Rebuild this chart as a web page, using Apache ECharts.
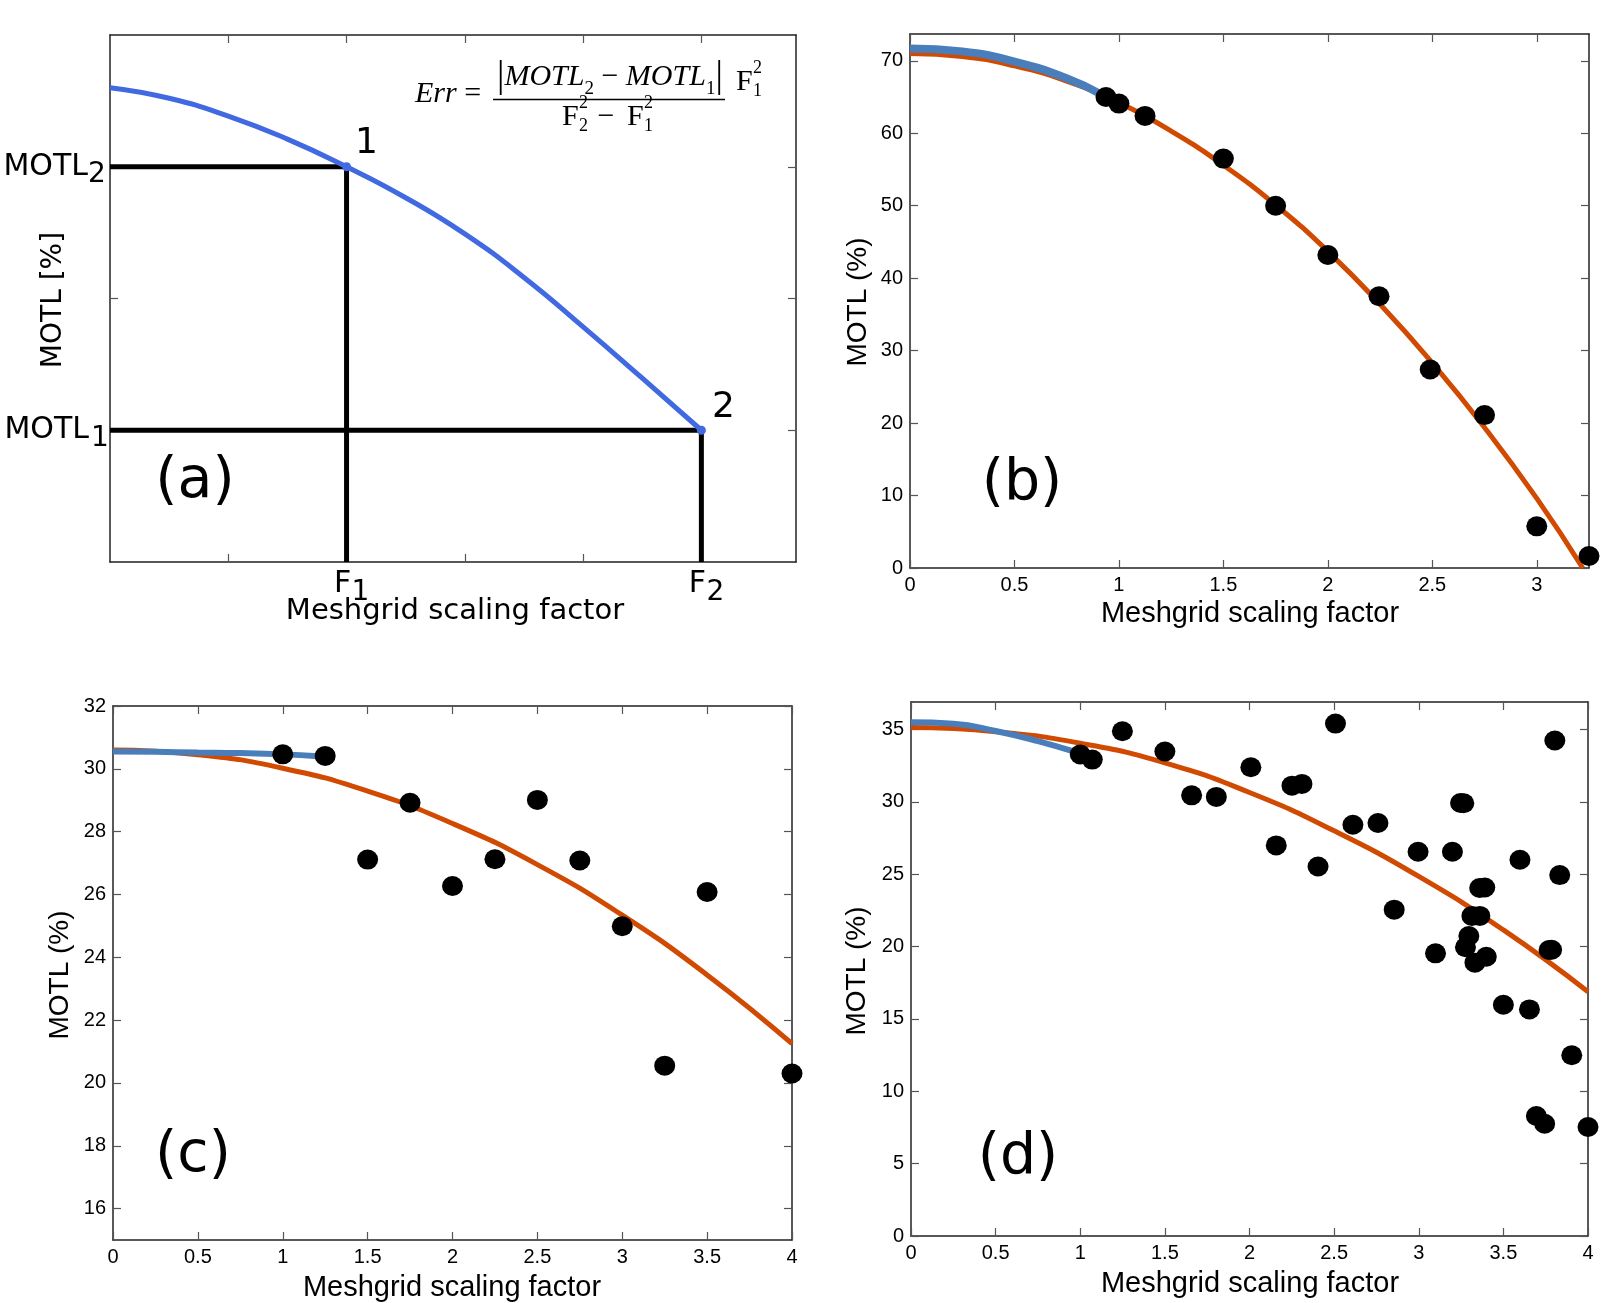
<!DOCTYPE html>
<html>
<head>
<meta charset="utf-8">
<script src="https://cdn.jsdelivr.net/npm/echarts@6/dist/echarts.min.js"></script>
<style>
  html, body { margin: 0; padding: 0; background: #fff; }
  #main { width: 1619px; height: 1303px; }
</style>
</head>
<body>
<div id="main"></div>
<script>
// (a) schematic curve + the two reference points
const aCurveX = [0, 0.5, 1, 1.5, 2, 2.5, 3, 3.5, 4, 4.5, 5];
const aCurveY = [3.6, 3.52, 3.385, 3.21, 3.0, 2.765, 2.49, 2.16, 1.785, 1.395, 1.0];
const aF = [2, 5];
const aMOTL = [3, 1];
const aXTicks = [1, 2, 3, 4, 5];
const aYTicks = [1, 2, 3];

// (b)
const bPtsX = [0.938, 1.0, 1.125, 1.5, 1.75, 2.0, 2.245, 2.49, 2.75, 3.0, 3.25];
const bPtsY = [65.0, 64.1, 62.4, 56.5, 50.0, 43.2, 37.5, 27.4, 21.1, 5.75, 1.65];
const bFitX = [0, 0.25, 0.5, 0.75, 1, 1.25, 1.5, 1.75, 2, 2.25, 2.5, 2.75, 3, 3.22];
const bFitY = [71.0, 70.6, 69.3, 67.2, 64.2, 60.3, 55.6, 50.1, 43.7, 36.4, 28.3, 19.4, 9.6, 0];
const bBlueX = [0, 0.25, 0.5, 0.75, 0.92];
const bBlueY = [71.7, 71.3, 69.9, 67.6, 65.3];
const bXTicks = [0, 0.5, 1, 1.5, 2, 2.5, 3];
const bYTicks = [0, 10, 20, 30, 40, 50, 60, 70];

// (c)
const cPtsX = [1, 1.25, 1.5, 1.75, 2, 2.25, 2.5, 2.75, 3, 3.25, 3.5, 4];
const cPtsY = [30.46, 30.41, 27.11, 28.92, 26.27, 27.12, 29.01, 27.08, 24.99, 20.55, 26.08, 20.3];
const cFitX = [0, 0.5, 1, 1.5, 2, 2.5, 3, 3.5, 4];
const cFitY = [30.6, 30.45, 30.02, 29.29, 28.26, 26.95, 25.34, 23.44, 21.25];
const cBlueX = [0, 0.25, 0.5, 0.75, 1, 1.21];
const cBlueY = [30.55, 30.54, 30.52, 30.5, 30.46, 30.4];
const cXTicks = [0, 0.5, 1, 1.5, 2, 2.5, 3, 3.5, 4];
const cYTicks = [16, 18, 20, 22, 24, 26, 28, 30, 32];

// (d)
const dPtsX = [1.0, 1.071, 1.249, 1.5, 1.658, 1.804, 2.008, 2.158, 2.251, 2.31, 2.405, 2.508, 2.611, 2.759,
  2.855, 2.996, 3.099, 3.199, 3.247, 3.266, 3.276, 3.296, 3.314, 3.332, 3.361, 3.36, 3.39, 3.399,
  3.5, 3.598, 3.654, 3.695, 3.744, 3.77, 3.785, 3.804, 3.833, 3.904, 4.0];
const dPtsY = [33.27, 32.92, 34.88, 33.48, 30.45, 30.34, 32.39, 26.99, 31.12, 31.24, 25.53, 35.41, 28.42, 28.54,
  22.55, 26.55, 19.53, 26.55, 29.92, 29.9, 19.95, 20.73, 22.12, 18.89, 22.12, 24.05, 24.08, 19.3,
  15.98, 26.0, 15.66, 8.29, 7.76, 19.76, 19.78, 34.24, 24.94, 12.49, 7.53];
const dFitX = [0, 0.5, 1, 1.5, 2, 2.5, 3, 3.5, 4];
const dFitY = [35.13, 34.85, 34.05, 32.7, 30.65, 28.0, 24.85, 21.15, 16.88];
const dBlueX = [0, 0.25, 0.5, 0.75, 0.97];
const dBlueY = [35.5, 35.4, 34.9, 34.2, 33.45];
const dXTicks = [0, 0.5, 1, 1.5, 2, 2.5, 3, 3.5, 4];
const dYTicks = [0, 5, 10, 15, 20, 25, 30, 35];

const BLUE = '#4a7ebb';
const ORANGE = '#d04a02';
const ABLUE = '#4169e1';
const SANS = 'Liberation Sans, Arial, sans-serif';
const DEJAVU = 'DejaVu Sans, sans-serif';
const SERIF = 'Liberation Serif, DejaVu Serif, serif';

const pairs = (xs, ys) => xs.map((x, i) => [x, ys[i]]);

const grids = [
  { left: 110, top: 35, width: 686, height: 527 },
  { left: 910, top: 34, width: 679, height: 534 },
  { left: 113, top: 706, width: 679, height: 534 },
  { left: 911, top: 702, width: 677, height: 534 },
];
const xRange = [[0, 5.8], [0, 3.25], [0, 4], [0, 4]];
const yRange = [[0, 4], [0, 73.7], [15, 32], [0, 36.9]];
const xTicks = [aXTicks, bXTicks, cXTicks, dXTicks];
const yTicks = [aYTicks, bYTicks, cYTicks, dYTicks];

function axis(kind, i, pos, labels) {
  const r = kind === 'x' ? xRange[i] : yRange[i];
  const t = kind === 'x' ? xTicks[i] : yTicks[i];
  return {
    type: 'value',
    gridIndex: i,
    position: pos,
    min: r[0],
    max: r[1],
    axisLine: { show: true, onZero: false, lineStyle: { color: '#222', width: 1.5 } },
    axisTick: { show: true, inside: true, length: 8, customValues: t, lineStyle: { color: '#555', width: 1.2 } },
    axisLabel: {
      show: labels,
      customValues: t,
      color: '#000',
      fontFamily: SANS,
      fontSize: 20,
      margin: 7,
      formatter: (v) => String(v),
    },
    splitLine: { show: false },
  };
}

const xAxis = [], yAxis = [];
for (let i = 0; i < 4; i++) xAxis.push(axis('x', i, 'bottom', i > 0));
for (let i = 0; i < 4; i++) xAxis.push(axis('x', i, 'top', false));
for (let i = 0; i < 4; i++) yAxis.push(axis('y', i, 'left', i > 0));
for (let i = 0; i < 4; i++) yAxis.push(axis('y', i, 'right', false));

function panelSeries(i, fit, blue, blueWidth, pts) {
  return [
    { type: 'line', xAxisIndex: i, yAxisIndex: i, data: fit, smooth: true, showSymbol: false,
      lineStyle: { color: ORANGE, width: 5 }, z: 2 },
    { type: 'line', xAxisIndex: i, yAxisIndex: i, data: blue, smooth: true, showSymbol: false,
      lineStyle: { color: BLUE, width: blueWidth }, z: 3 },
    { type: 'scatter', xAxisIndex: i, yAxisIndex: i, data: pts, symbolSize: [21, 20], clip: false,
      itemStyle: { color: '#000', opacity: 1 }, z: 4 },
  ];
}

const series = [
  { type: 'line', xAxisIndex: 0, yAxisIndex: 0, showSymbol: false,
    data: [[0, aMOTL[0]], [aF[0], aMOTL[0]], [aF[0], 0]],
    lineStyle: { color: '#000', width: 5, cap: 'butt', join: 'miter' }, z: 2 },
  { type: 'line', xAxisIndex: 0, yAxisIndex: 0, showSymbol: false,
    data: [[0, aMOTL[1]], [aF[1], aMOTL[1]], [aF[1], 0]],
    lineStyle: { color: '#000', width: 5, cap: 'butt', join: 'miter' }, z: 2 },
  { type: 'line', xAxisIndex: 0, yAxisIndex: 0, showSymbol: false, smooth: true,
    data: pairs(aCurveX, aCurveY), lineStyle: { color: ABLUE, width: 5 }, z: 3 },
  { type: 'scatter', xAxisIndex: 0, yAxisIndex: 0, symbolSize: 9, clip: false,
    data: pairs(aF, aMOTL), itemStyle: { color: ABLUE, opacity: 1 }, z: 4 },
  ...panelSeries(1, pairs(bFitX, bFitY), pairs(bBlueX, bBlueY), 8, pairs(bPtsX, bPtsY)),
  ...panelSeries(2, pairs(cFitX, cFitY), pairs(cBlueX, cBlueY), 6, pairs(cPtsX, cPtsY)),
  ...panelSeries(3, pairs(dFitX, dFitY), pairs(dBlueX, dBlueY), 6, pairs(dPtsX, dPtsY)),
];

const chart = echarts.init(document.getElementById('main'));
chart.setOption({
  backgroundColor: '#fff',
  animation: false,
  grid: grids,
  xAxis: xAxis,
  yAxis: yAxis,
  series: series,
});

function txt(x, y, text, size, family, opts) {
  opts = opts || {};
  return {
    type: 'text',
    x: x,
    y: y,
    rotation: opts.rotation || 0,
    silent: true,
    z: 100,
    style: {
      text: text,
      fontSize: size,
      fontFamily: family,
      fontStyle: opts.italic ? 'italic' : 'normal',
      fill: '#000',
      align: opts.align || 'center',
      verticalAlign: 'middle',
      textAlign: opts.align || 'center',
      textVerticalAlign: 'middle',
      rich: opts.rich,
    },
  };
}

// stacked sub/superscript F as in the formula
function stackF(left, midY, sub, sup) {
  return [
    txt(left, midY, 'F', 30, SERIF, { align: 'left' }),
    txt(left + 17, midY - 14, sup, 18, SERIF, { align: 'left' }),
    txt(left + 17, midY + 9, sub, 18, SERIF, { align: 'left' }),
  ];
}

const px = (x, y) => chart.convertToPixel({ xAxisIndex: 0, yAxisIndex: 0 }, [x, y]);
const p1 = px(aF[0], aMOTL[0]);
const p2 = px(aF[1], aMOTL[1]);
const aBottom = grids[0].top + grids[0].height;

const graphic = [
  // panel (a) annotations
  txt(88, p1[1], 'MOTL', 30, DEJAVU, { align: 'right' }),
  txt(88, p1[1] + 8, '2', 28, DEJAVU, { align: 'left' }),
  txt(89, p2[1], 'MOTL', 30, DEJAVU, { align: 'right' }),
  txt(91, p2[1] + 8, '1', 28, DEJAVU, { align: 'left' }),
  txt(p1[0] - 4, aBottom + 22, 'F', 30, DEJAVU),
  txt(p1[0] + 5, aBottom + 31, '1', 28, DEJAVU, { align: 'left' }),
  txt(p2[0] - 4, aBottom + 22, 'F', 30, DEJAVU),
  txt(p2[0] + 5, aBottom + 31, '2', 28, DEJAVU, { align: 'left' }),
  txt(p1[0] + 20, p1[1] - 23, '1', 36, DEJAVU),
  txt(p2[0] + 22, p2[1] - 23, '2', 36, DEJAVU),
  txt(455, 611, 'Meshgrid scaling factor', 29, DEJAVU),
  txt(54, 300, 'MOTL [%]', 28, DEJAVU, { rotation: Math.PI / 2 }),
  txt(195, 482, '(a)', 57, DEJAVU),

  // formula
  txt(415, 94, '{i|Err} =', 30, SERIF, { align: 'left', rich: { i: { fontStyle: 'italic', fontSize: 30, fontFamily: SERIF } } }),
  txt(497, 77, '{b||}{i|MOTL}{s|2}{o| − }{i|MOTL}{s|1}{b||}', 30, SERIF, {
    align: 'left',
    rich: {
      b: { fontSize: 37, fontFamily: SERIF, lineHeight: 44 },
      i: { fontSize: 30, fontFamily: SERIF, fontStyle: 'italic', lineHeight: 44 },
      o: { fontSize: 30, fontFamily: SERIF, lineHeight: 44 },
      s: { fontSize: 19, fontFamily: SERIF, lineHeight: 18, verticalAlign: 'bottom' },
    },
  }),
  { type: 'line', silent: true, z: 100, shape: { x1: 493, y1: 99.5, x2: 725, y2: 99.5 }, style: { stroke: '#000', lineWidth: 1.6 } },
  ...stackF(736, 82.5, '1', '2'),
  ...stackF(562, 117, '2', '2'),
  txt(606, 117, '−', 30, SERIF),
  ...stackF(627, 117, '1', '2'),

  // panel (b)
  txt(858, 302, 'MOTL (%)', 28, SANS, { rotation: Math.PI / 2 }),
  txt(1250, 614, 'Meshgrid scaling factor', 29, SANS),
  txt(1022, 484, '(b)', 57, DEJAVU),
  // panel (c)
  txt(60, 975, 'MOTL (%)', 28, SANS, { rotation: Math.PI / 2 }),
  txt(452, 1288, 'Meshgrid scaling factor', 29, SANS),
  txt(193, 1156, '(c)', 57, DEJAVU),
  // panel (d)
  txt(857, 971, 'MOTL (%)', 28, SANS, { rotation: Math.PI / 2 }),
  txt(1250, 1284, 'Meshgrid scaling factor', 29, SANS),
  txt(1018, 1158, '(d)', 57, DEJAVU),
];

chart.setOption({ graphic: graphic });
</script>
</body>
</html>
